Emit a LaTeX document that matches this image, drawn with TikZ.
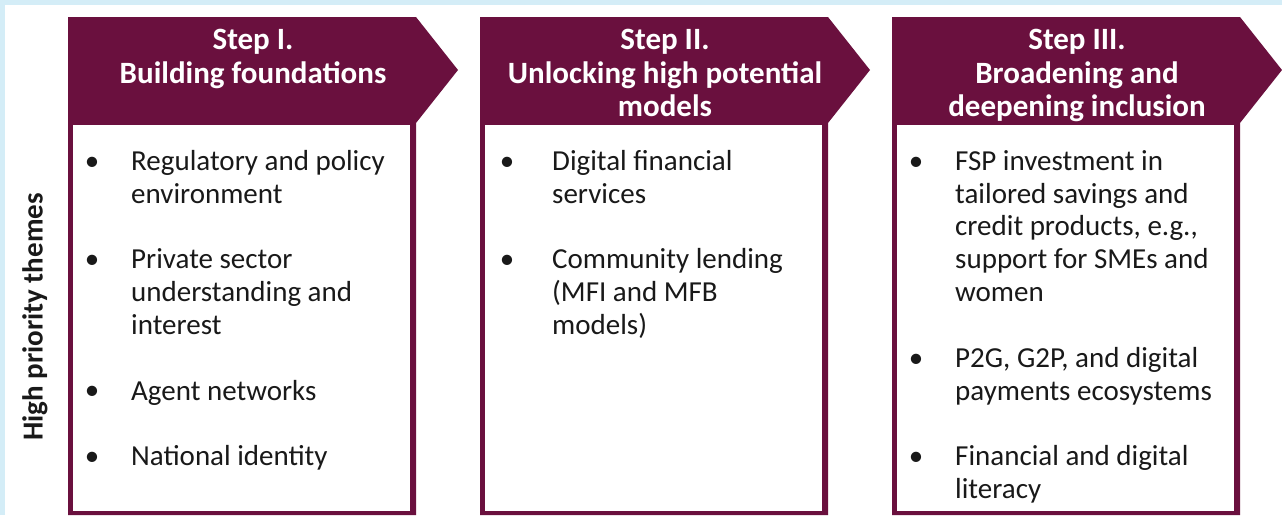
\documentclass[tikz,border=0pt]{standalone}
\usepackage{fontspec}
\setmainfont{Carlito}
\definecolor{maroon}{RGB}{106,16,62}
\definecolor{bgblue}{RGB}{212,237,247}
\definecolor{bodytext}{RGB}{25,25,25}
\newcommand\topstrut{\rule{0pt}{25pt}}
\tikzset{
  bodyfont/.style={font=\fontsize{29}{32.85}\selectfont, text=bodytext},
  itemtext/.style={bodyfont, anchor=north west, inner sep=0pt, align=left},
  bul/.style={bodyfont, anchor=base, inner sep=0pt},
  head/.style={font=\fontsize{31}{33.6}\selectfont\bfseries, text=white, anchor=north, inner sep=0pt, align=center},
  side/.style={font=\fontsize{29}{32}\selectfont\bfseries, text=bodytext, rotate=90, inner sep=0pt},
}
\begin{document}
\begin{tikzpicture}[x=1pt,y=-1pt]
\useasboundingbox (0,0) rectangle (1282,515);
\fill[bgblue] (0,0) rectangle (1282,515);
\fill[white] (5,5) rectangle (1282,515);
% column frames
\foreach \L in {68,480,892}{
  \fill[maroon] (\L,17) -- (\L+348,17) -- (\L+390,70) -- (\L+348,123) -- (\L+348,515) -- (\L,515) -- cycle;
  \fill[white] (\L+5,125) rectangle (\L+342,511);
}
% headers
\node[head] (h1) at (253,24.5) {\topstrut Step I.\\Building foundations};
\node[head] (h2) at (665,24.5) {\topstrut Step II.\\Unlocking high potential\\models};
\node[head] (h3) at (1077,24.5) {\topstrut Step III.\\Broadening and\\deepening inclusion};
% side label
\node[side] (side) at (35,317) {High priority themes};
% column 1
\node[bul] (b11) at (92,170) {\textbullet};
\node[itemtext] (t11) at (131,145) {\topstrut Regulatory and policy\\environment};
\node[bul] (b12) at (92,268.55) {\textbullet};
\node[itemtext] (t12) at (131,243.55) {\topstrut Private sector\\understanding and\\interest};
\node[bul] (b13) at (92,399.95) {\textbullet};
\node[itemtext] (t13) at (131,374.95) {\topstrut Agent networks};
\node[bul] (b14) at (92,465.65) {\textbullet};
\node[itemtext] (t14) at (131,440.65) {\topstrut National identity};
% column 2
\node[bul] (b21) at (507,170) {\textbullet};
\node[itemtext] (t21) at (552,145) {\topstrut Digital financial\\services};
\node[bul] (b22) at (507,268.55) {\textbullet};
\node[itemtext] (t22) at (552,243.55) {\topstrut Community lending\\(MFI and MFB\\models)};
% column 3
\node[bul] (b31) at (916,170) {\textbullet};
\node[itemtext] (t31) at (955,145) {\topstrut FSP investment in\\tailored savings and\\credit products, e.g.,\\support for SMEs and\\women};
\node[bul] (b32) at (916,367.1) {\textbullet};
\node[itemtext] (t32) at (955,342.1) {\topstrut P2G, G2P, and digital\\payments ecosystems};
\node[bul] (b33) at (916,465.65) {\textbullet};
\node[itemtext] (t33) at (955,440.65) {\topstrut Financial and digital\\literacy};
\end{tikzpicture}
\end{document}
